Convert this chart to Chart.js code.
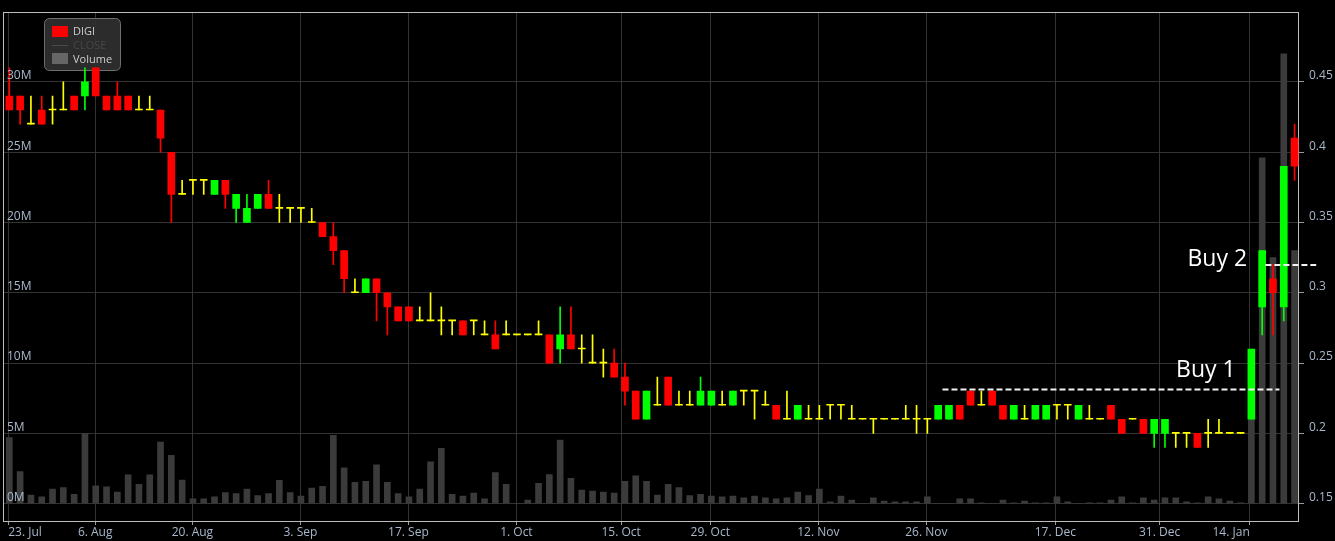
<!DOCTYPE html>
<html lang="en">
<head>
  <meta charset="UTF-8">
  <title>DIGI</title>
  <script src="https://cdn.jsdelivr.net/npm/chart.js"></script>
  <style>
    html, body { margin: 0; padding: 0; background: #000; }
    #digiChart { display: block; }
  </style>
</head>
<body>
  <canvas id="digiChart" width="1335" height="541"></canvas>

  <script>
    // Daily candles, one per trading day with trades (index 0 = 23 Jul)
    const openP = [
      0.44, 0.44, 0.42, 0.43, 0.43, 0.43, 0.44, 0.44, 0.46, 0.44,
      0.44, 0.44, 0.43, 0.43, 0.43, 0.40, 0.37, 0.38, 0.38, 0.37,
      0.38, 0.36, 0.35, 0.36, 0.37, 0.36, 0.36, 0.36, 0.35, 0.35,
      0.34, 0.33, 0.30, 0.30, 0.31, 0.30, 0.29, 0.29, 0.28, 0.28,
      0.28, 0.28, 0.28, 0.28, 0.27, 0.27, 0.27, 0.27, 0.27, 0.27,
      0.27, 0.26, 0.27, 0.26, 0.25, 0.25, 0.25, 0.24, 0.23, 0.21,
      0.22, 0.24, 0.22, 0.22, 0.22, 0.22, 0.22, 0.22, 0.23, 0.23,
      0.22, 0.22, 0.21, 0.21, 0.21, 0.21, 0.22, 0.22, 0.21, 0.21,
      0.21, 0.21, 0.21, 0.21, 0.21, 0.21, 0.21, 0.21, 0.22, 0.23,
      0.22, 0.23, 0.22, 0.21, 0.21, 0.21, 0.21, 0.22, 0.22, 0.21,
      0.21, 0.21, 0.22, 0.21, 0.21, 0.21, 0.20, 0.20, 0.20, 0.20,
      0.20, 0.20, 0.20, 0.20, 0.20, 0.21, 0.29, 0.31, 0.29, 0.41
    ];
    const highP = [
      0.46, 0.44, 0.44, 0.44, 0.44, 0.45, 0.44, 0.46, 0.46, 0.44,
      0.45, 0.44, 0.44, 0.44, 0.43, 0.40, 0.38, 0.38, 0.38, 0.38,
      0.38, 0.37, 0.37, 0.37, 0.38, 0.37, 0.36, 0.36, 0.36, 0.35,
      0.35, 0.33, 0.31, 0.31, 0.31, 0.30, 0.29, 0.29, 0.29, 0.30,
      0.29, 0.28, 0.28, 0.28, 0.28, 0.28, 0.28, 0.27, 0.27, 0.28,
      0.27, 0.29, 0.29, 0.27, 0.27, 0.26, 0.26, 0.25, 0.23, 0.23,
      0.24, 0.24, 0.23, 0.23, 0.24, 0.23, 0.23, 0.23, 0.23, 0.23,
      0.23, 0.22, 0.23, 0.22, 0.22, 0.22, 0.22, 0.22, 0.22, 0.21,
      0.21, 0.21, 0.21, 0.22, 0.22, 0.21, 0.22, 0.22, 0.22, 0.23,
      0.23, 0.23, 0.22, 0.22, 0.22, 0.22, 0.22, 0.22, 0.22, 0.22,
      0.22, 0.21, 0.22, 0.21, 0.21, 0.21, 0.21, 0.21, 0.20, 0.20,
      0.20, 0.21, 0.21, 0.20, 0.20, 0.26, 0.33, 0.32, 0.39, 0.42
    ];
    const lowP = [
      0.43, 0.42, 0.42, 0.42, 0.42, 0.43, 0.43, 0.43, 0.44, 0.43,
      0.43, 0.43, 0.43, 0.43, 0.40, 0.35, 0.37, 0.37, 0.37, 0.37,
      0.36, 0.35, 0.35, 0.36, 0.36, 0.35, 0.35, 0.35, 0.35, 0.34,
      0.32, 0.30, 0.30, 0.30, 0.28, 0.27, 0.28, 0.28, 0.28, 0.28,
      0.27, 0.27, 0.27, 0.27, 0.27, 0.26, 0.27, 0.27, 0.27, 0.27,
      0.25, 0.25, 0.26, 0.25, 0.25, 0.24, 0.24, 0.22, 0.21, 0.21,
      0.22, 0.22, 0.22, 0.22, 0.22, 0.22, 0.22, 0.22, 0.22, 0.21,
      0.22, 0.21, 0.21, 0.21, 0.21, 0.21, 0.21, 0.21, 0.21, 0.21,
      0.20, 0.21, 0.21, 0.21, 0.20, 0.20, 0.21, 0.21, 0.21, 0.22,
      0.22, 0.22, 0.21, 0.21, 0.21, 0.21, 0.21, 0.21, 0.21, 0.21,
      0.21, 0.21, 0.21, 0.20, 0.21, 0.20, 0.19, 0.19, 0.19, 0.19,
      0.19, 0.19, 0.20, 0.20, 0.20, 0.21, 0.27, 0.27, 0.28, 0.38
    ];
    const closeP = [
      0.43, 0.43, 0.42, 0.42, 0.43, 0.43, 0.43, 0.45, 0.44, 0.43,
      0.43, 0.43, 0.43, 0.43, 0.41, 0.37, 0.37, 0.38, 0.38, 0.38,
      0.37, 0.37, 0.36, 0.37, 0.36, 0.36, 0.36, 0.36, 0.35, 0.34,
      0.33, 0.31, 0.30, 0.31, 0.30, 0.29, 0.28, 0.28, 0.28, 0.28,
      0.28, 0.28, 0.27, 0.28, 0.27, 0.26, 0.27, 0.27, 0.27, 0.27,
      0.25, 0.27, 0.26, 0.26, 0.25, 0.25, 0.24, 0.23, 0.21, 0.23,
      0.22, 0.22, 0.22, 0.22, 0.23, 0.23, 0.22, 0.23, 0.23, 0.23,
      0.22, 0.21, 0.21, 0.22, 0.21, 0.21, 0.22, 0.22, 0.21, 0.21,
      0.21, 0.21, 0.21, 0.21, 0.21, 0.21, 0.22, 0.22, 0.21, 0.22,
      0.22, 0.22, 0.21, 0.22, 0.21, 0.22, 0.22, 0.22, 0.22, 0.22,
      0.21, 0.21, 0.21, 0.20, 0.21, 0.20, 0.21, 0.21, 0.20, 0.20,
      0.19, 0.20, 0.20, 0.20, 0.20, 0.26, 0.33, 0.30, 0.39, 0.39
    ];
    // Volume in millions of shares
    const volumeM = [
      4.69, 2.28, 0.60, 0.48, 1.03, 1.15, 0.67, 5.00, 1.27, 1.20,
      0.82, 2.04, 1.37, 2.04, 4.38, 3.44, 1.68, 0.34, 0.34, 0.48,
      0.79, 0.72, 1.03, 0.58, 0.72, 1.66, 0.79, 0.53, 1.10, 1.23,
      4.86, 2.55, 1.51, 1.59, 2.76, 1.51, 0.72, 0.48, 1.03, 2.98,
      3.94, 0.67, 0.53, 0.75, 0.34, 2.21, 1.37, 0.00, 0.26, 1.44,
      2.07, 4.52, 1.80, 0.96, 0.89, 0.82, 0.75, 1.59, 1.97, 1.59,
      0.60, 1.37, 1.15, 0.58, 0.67, 0.53, 0.48, 0.53, 0.41, 0.53,
      0.41, 0.34, 0.41, 0.82, 0.58, 1.03, 0.12, 0.53, 0.26, 0.00,
      0.41, 0.19, 0.12, 0.12, 0.12, 0.48, 0.00, 0.00, 0.34, 0.34,
      0.05, 0.00, 0.26, 0.05, 0.19, 0.05, 0.05, 0.48, 0.12, 0.00,
      0.05, 0.05, 0.26, 0.48, 0.05, 0.41, 0.26, 0.41, 0.41, 0.12,
      0.05, 0.48, 0.34, 0.19, 0.05, 9.00, 24.6, 17.5, 32.0, 18.0
    ];

    // Date ticks (position in candle index units) and their labels
    const xTickPos = [-0.1, 7.95, 16.95, 26.95, 36.95, 46.95, 56.65, 64.9, 74.9, 84.9, 96.85, 106.5, 114.85];
    const xTickLabels = ['23. Jul', '6. Aug', '20. Aug', '3. Sep', '17. Sep', '1. Oct', '15. Oct',
                         '29. Oct', '12. Nov', '26. Nov', '17. Dec', '31. Dec', '14. Jan'];
    const volTicks = [0, 5, 10, 15, 20, 25, 30];
    const volTickLabels = ['0M', '5M', '10M', '15M', '20M', '25M', '30M'];
    const priceTicks = [0.15, 0.2, 0.25, 0.3, 0.35, 0.4, 0.45];
    const priceTickLabels = ['0.15', '0.2', '0.25', '0.3', '0.35', '0.4', '0.45'];

    // Buy markers: dashed level plus caption
    const buyMarks = [
      { label: 'Buy 1', price: 0.2312, from: 86.4, to: 117.6, textX: 113.55, textPrice: 0.2404 },
      { label: 'Buy 2', price: 0.3197, from: 116.3, to: 121.0, textX: 114.6, textPrice: 0.3192 }
    ];

    const UP = '#00ff00';
    const DOWN = '#ff0000';
    const FLAT = '#ffff00';
    const GRID = '#333333';
    const LABEL = '#a9b8cc';
    const FONT = 'Open Sans';

    const X_MIN = -0.586, X_MAX = 119.41;
    const candleColor = closeP.map((c, i) => c > openP[i] ? UP : (c < openP[i] ? DOWN : FLAT));

    // Frame round the plot area
    const framePlugin = {
      id: 'frame',
      beforeDatasetsDraw(chart) {
        const { ctx, chartArea: a } = chart;
        ctx.save();
        ctx.strokeStyle = '#bdbdbd';
        ctx.lineWidth = 1;
        ctx.strokeRect(Math.floor(a.left) + 0.5, Math.floor(a.top) + 0.5,
                       Math.round(a.right - a.left) - 1, Math.round(a.bottom - a.top) - 1);
        ctx.restore();
      }
    };

    // Legend box in the top-left corner (drawn under the candles)
    const legendPlugin = {
      id: 'boxLegend',
      beforeDatasetsDraw(chart) {
        const ctx = chart.ctx;
        const x = 44.5, y = 18.5, w = 76, h = 52;
        ctx.save();
        ctx.beginPath();
        ctx.roundRect(x, y, w, h, 5);
        ctx.fillStyle = 'rgba(48,48,48,0.92)';
        ctx.fill();
        ctx.strokeStyle = '#6e6e6e';
        ctx.lineWidth = 1;
        ctx.stroke();

        ctx.font = '11px "' + FONT + '"';
        ctx.textBaseline = 'middle';
        ctx.fillStyle = DOWN;
        ctx.fillRect(52, 26, 16, 11);
        ctx.fillStyle = '#cccccc';
        ctx.fillText('DIGI', 73, 31.5);

        ctx.strokeStyle = '#4a4a4a';
        ctx.beginPath();
        ctx.moveTo(52, 45.5);
        ctx.lineTo(68, 45.5);
        ctx.stroke();
        ctx.fillStyle = '#464646';
        ctx.fillText('CLOSE', 73, 45.5);

        ctx.fillStyle = '#666666';
        ctx.fillRect(52, 53, 16, 11);
        ctx.fillStyle = '#cccccc';
        ctx.fillText('Volume', 73, 59.5);
        ctx.restore();
      }
    };

    // Captions for the buy levels
    const captionPlugin = {
      id: 'captions',
      afterDatasetsDraw(chart) {
        const { ctx, scales } = chart;
        ctx.save();
        ctx.font = '23px "' + FONT + '"';
        ctx.fillStyle = '#ffffff';
        ctx.textAlign = 'right';
        ctx.textBaseline = 'alphabetic';
        buyMarks.forEach(m => {
          ctx.fillText(m.label, scales.x.getPixelForValue(m.textX), scales.price.getPixelForValue(m.textPrice));
        });
        ctx.restore();
      }
    };

    const lineSets = buyMarks.map(m => ({
      type: 'line',
      label: m.label,
      yAxisID: 'price',
      data: [{ x: m.from, y: m.price }, { x: m.to, y: m.price }],
      borderColor: '#f2f2f2',
      borderWidth: 2,
      borderDash: [6, 3],
      pointRadius: 0,
      clip: false,
      order: 0
    }));

    const ctx = document.getElementById('digiChart').getContext('2d');
    new Chart(ctx, {
      type: 'bar',
      data: {
        datasets: [
          ...lineSets,
          {
            label: 'DIGI body',
            yAxisID: 'price',
            data: openP.map((o, i) => ({ x: i, y: [o, closeP[i]] })),
            backgroundColor: candleColor,
            barThickness: 7,
            minBarLength: 1,
            grouped: false,
            order: 1
          },
          {
            label: 'DIGI wick',
            yAxisID: 'price',
            data: lowP.map((l, i) => ({ x: i, y: [l, highP[i]] })),
            backgroundColor: candleColor,
            barThickness: 1,
            grouped: false,
            order: 2
          },
          {
            label: 'Volume',
            yAxisID: 'vol',
            data: volumeM.map((v, i) => ({ x: i, y: v })),
            backgroundColor: '#3b3b3b',
            barThickness: 6,
            grouped: false,
            order: 3
          }
        ]
      },
      options: {
        responsive: false,
        animation: false,
        events: [],
        layout: { padding: { top: 3, left: 0, right: 0, bottom: 0 } },
        plugins: {
          legend: { display: false },
          tooltip: { enabled: false }
        },
        scales: {
          x: {
            type: 'linear',
            offset: false,
            min: X_MIN,
            max: X_MAX,
            afterBuildTicks: axis => { axis.ticks = xTickPos.map(v => ({ value: v })); },
            afterFit: axis => { axis.height = 19; },
            grid: { offset: false, color: GRID, tickColor: '#9a9a9a', tickLength: 3 },
            border: { display: false },
            ticks: {
              autoSkip: false,
              maxRotation: 0,
              align: 'inner',
              padding: 0,
              color: LABEL,
              font: { family: FONT, size: 12 },
              callback: (v, i) => xTickLabels[i] ?? ''
            }
          },
          vol: {
            type: 'linear',
            position: 'left',
            min: -1.307,
            max: 34.96,
            afterBuildTicks: axis => { axis.ticks = volTicks.map(v => ({ value: v })); },
            afterFit: axis => { axis.width = 3; },
            grid: { color: GRID, drawTicks: false },
            border: { display: false },
            ticks: {
              z: 1,               // labels sit above the volume bars
              mirror: true,
              padding: 4,
              labelOffset: -6,
              color: LABEL,
              font: { family: FONT, size: 12 },
              callback: (v, i) => volTickLabels[i]
            }
          },
          price: {
            type: 'linear',
            position: 'right',
            min: 0.13693,
            max: 0.4996,
            afterBuildTicks: axis => { axis.ticks = priceTicks.map(v => ({ value: v })); },
            afterFit: axis => { axis.width = 36; },
            grid: { drawOnChartArea: false, color: '#9a9a9a', tickLength: 5 },
            border: { display: false },
            ticks: {
              padding: 5,
              labelOffset: -6,
              color: LABEL,
              font: { family: FONT, size: 12 },
              callback: (v, i) => priceTickLabels[i]
            }
          }
        }
      },
      plugins: [framePlugin, legendPlugin, captionPlugin]
    });
  </script>
</body>
</html>
